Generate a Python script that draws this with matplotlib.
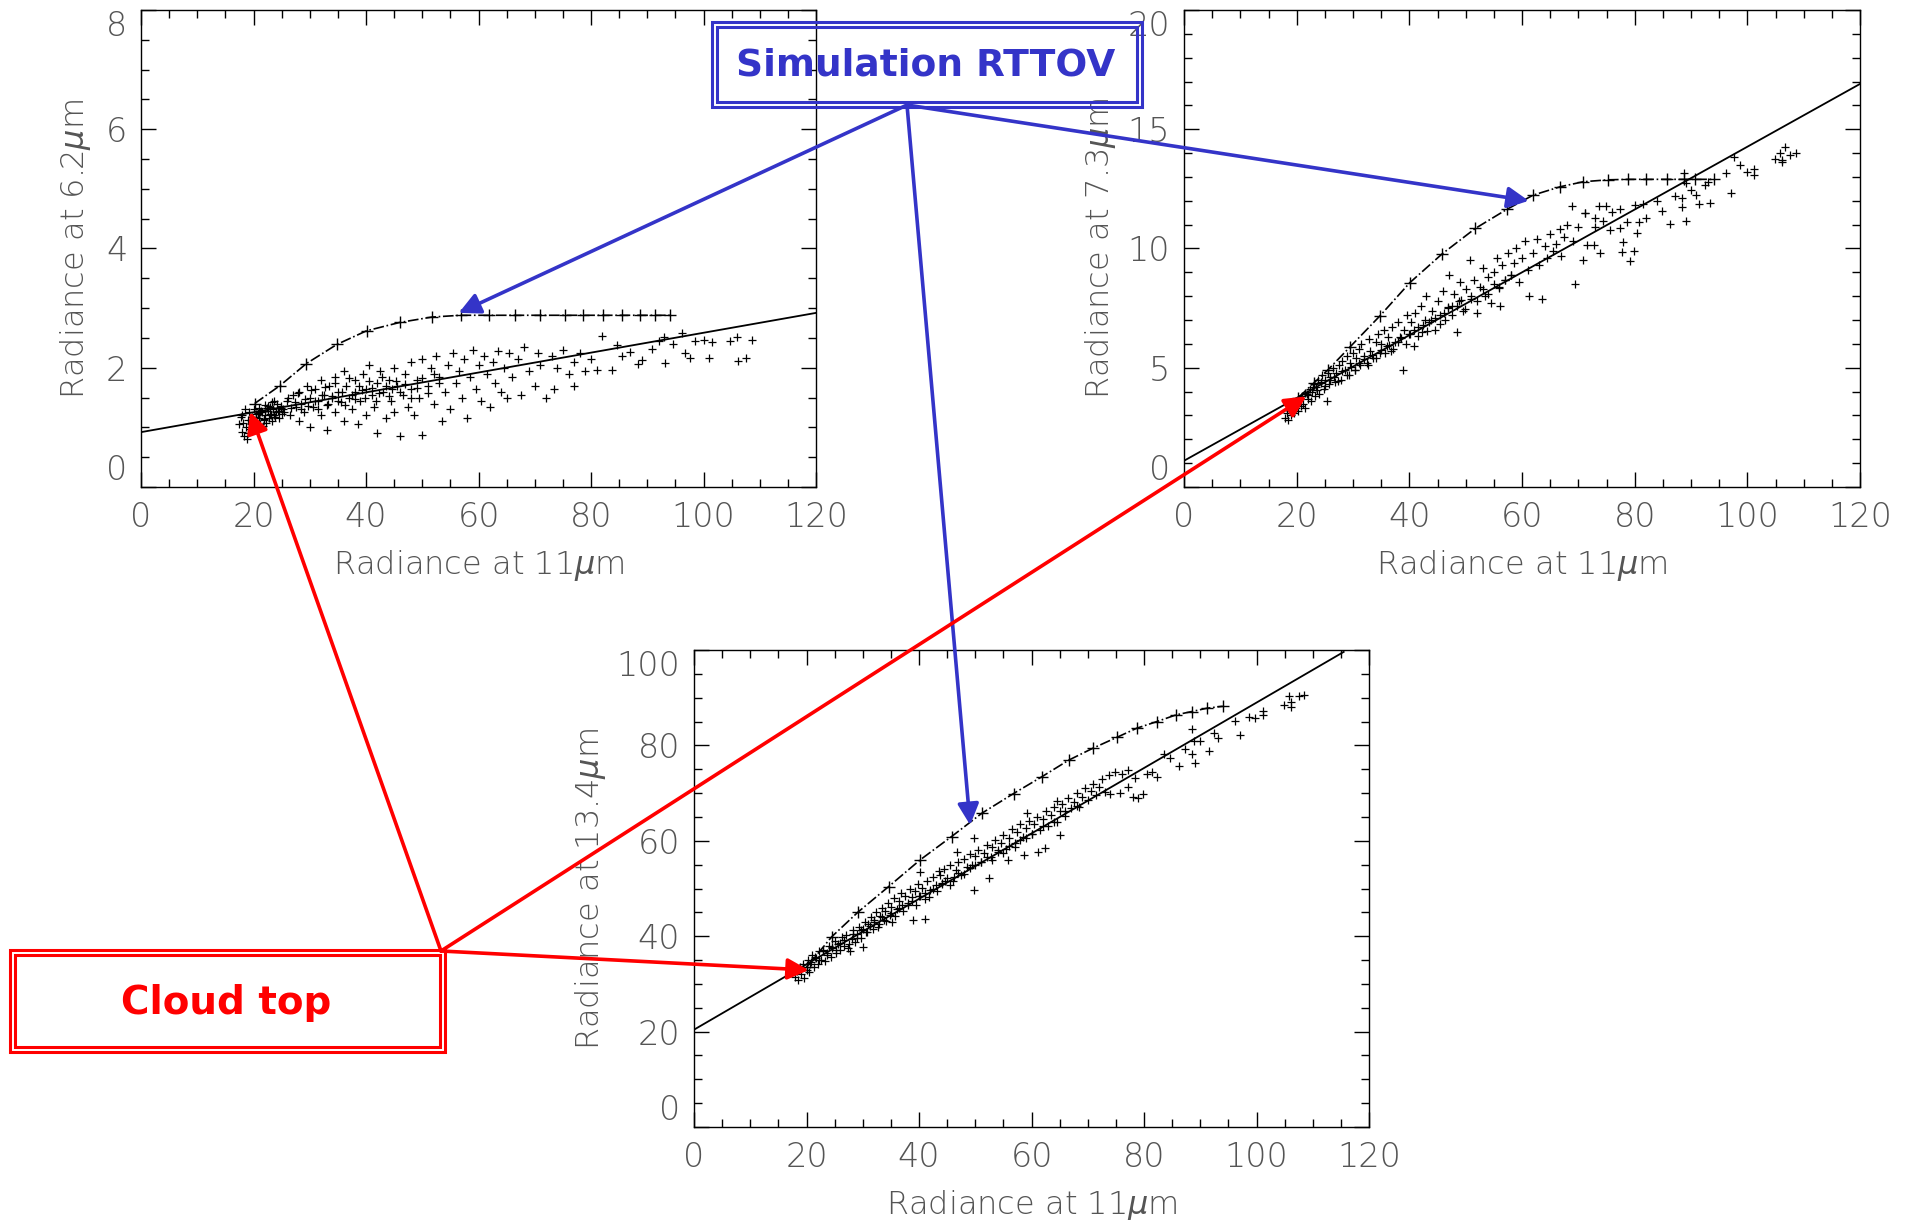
import matplotlib
matplotlib.use("Agg")
import matplotlib.pyplot as plt
from matplotlib.ticker import MultipleLocator
from matplotlib.patches import FancyArrowPatch, Rectangle

# ---- data ----
x_ticks = [0, 20, 40, 60, 80, 100, 120]

# panel 1 : 6.2 um vs 11 um
fit1_x = [0, 120]
fit1_y = [0.92, 2.92]
sim1_x = [20.2, 24.7, 29.4, 34.8, 40.1, 46.0, 51.7, 56.8, 61.8, 66.5, 70.9, 75.4, 78.6, 82.1, 85.5, 88.7, 91.4, 94.0]
sim1_y = [1.40, 1.70, 2.07, 2.39, 2.62, 2.76, 2.85, 2.88, 2.88, 2.88, 2.88, 2.88, 2.88, 2.88, 2.88, 2.88, 2.88, 2.88]
obs1_x = [17.5, 18, 18, 18.3, 18.5, 18.7, 19, 19, 19.2, 19.5, 19.8, 20, 20, 20.2, 20.5, 20.7, 21, 21, 21.2, 21.5,
          21.8, 22, 22, 22.3, 22.5, 22.8, 23, 23, 23.3, 23.5, 23.8, 24, 24.2, 24.5, 24.8, 25, 18.2, 19.3, 20.4, 21.4,
          22.6, 23.6, 24.6, 17.8, 19.6, 21.6, 23.2, 25.2, 18.8, 20.8,
          26, 26.5, 27, 27.5, 28, 28, 28.5, 29, 29.5, 30, 30, 30.5, 31, 31.5, 32, 32, 32.5, 33, 33, 33.5,
          34, 34.5, 34.5, 35, 35.5, 36, 36, 36.5, 37, 37.5, 38, 38, 38.5, 39, 39.5, 40, 40, 40.5, 41, 41.5,
          42, 42, 42.5, 43, 43.5, 44, 44.5, 45, 45, 45.5, 46, 46.5, 47, 47.5, 48, 48, 48.5, 49, 49.5, 50, 50,
          51, 51.5, 52, 52.5, 53, 53.5, 54, 54.5, 55, 55.5, 56, 56.5, 57, 57.5, 58, 58.5, 59, 59.5, 60, 60.5,
          61, 61.5, 62, 62.5, 63, 63.5, 64, 64.5, 65, 65.5, 66, 67, 67.5, 68, 69, 70, 70.5, 71, 72, 73,
          73.5, 74, 75, 76, 77, 77, 78, 79, 80,
          81, 82, 83.7, 84.6, 85.5, 86.9, 88.4, 89, 90.8, 92, 92.9, 93.2, 94.5, 96.1, 96.7, 97.6, 98.5, 100,
          100.9, 101.5, 104.7, 105.9, 106.2, 107.6, 108.6,
          20.5, 21.2, 21.8, 22.4, 23.1, 23.7, 24.3, 24.9, 25.5, 26.1, 26.7, 27.3, 27.9, 28.5, 29.1, 29.7, 30.3,
          30.9, 31.5, 32.1, 32.7, 33.3, 33.9, 34.5, 35.1, 35.7, 36.3, 36.9, 37.5, 38.1, 38.7, 39.3, 39.9, 40.5,
          41.1, 41.7, 42.3, 42.9, 43.5, 44.1, 44.7, 45.3, 46, 47, 48, 49, 50, 51, 52, 53]
obs1_y = [1.05, 0.92, 1.2, 0.85, 1.3, 1.0, 1.12, 0.9, 1.25, 1.05, 1.18, 0.95, 1.3, 1.1, 1.22, 1.0, 1.15, 1.32, 1.05, 1.25,
          1.12, 1.2, 1.38, 1.08, 1.28, 1.15, 1.22, 1.35, 1.1, 1.3, 1.18, 1.25, 1.4, 1.15, 1.32, 1.22, 1.08, 0.98, 1.16, 1.28,
          1.36, 1.2, 1.28, 1.18, 1.12, 1.02, 1.42, 1.3, 0.8, 1.24,
          1.45, 1.2, 1.55, 1.35, 1.1, 1.6, 1.4, 1.25, 1.7, 1.5, 1.0, 1.35, 1.65, 1.45, 1.8, 1.2, 1.55, 1.38, 0.95, 1.7,
          1.5, 1.85, 1.25, 1.6, 1.42, 1.95, 1.1, 1.7, 1.5, 1.3, 1.8, 1.6, 1.05, 1.45, 1.9, 1.65, 1.2, 2.05, 1.55, 1.35,
          1.75, 0.9, 1.95, 1.6, 1.15, 1.8, 1.45, 2.0, 1.25, 1.7, 0.85, 1.55, 1.9, 1.35, 2.1, 1.65, 1.2, 1.8, 1.5, 2.15, 0.88,
          1.7, 2.0, 1.4, 2.2, 1.85, 1.1, 1.6, 2.05, 1.3, 2.25, 1.75, 1.95, 1.5, 2.15, 1.15, 1.85, 2.3, 1.65, 2.05, 1.45,
          2.2, 1.9, 1.35, 2.1, 1.75, 2.28, 1.6, 2.0, 1.5, 2.25, 1.85, 2.15, 1.55, 2.35, 1.95, 1.7, 2.25, 2.05, 1.5, 2.2,
          1.65, 2.0, 2.3, 1.9, 1.7, 2.1, 2.25, 1.95, 2.15,
          1.96, 2.53, 1.96, 2.38, 2.2, 2.27, 2.07, 2.13, 2.32, 2.45, 2.51, 2.08, 2.4, 2.59, 2.25, 2.17, 2.45, 2.46,
          2.16, 2.44, 2.45, 2.52, 2.11, 2.17, 2.47,
          1.18, 1.26, 1.14, 1.33, 1.2, 1.44, 1.28, 1.36, 1.25, 1.5, 1.32, 1.42, 1.58, 1.3, 1.48, 1.36, 1.62,
          1.44, 1.3, 1.55, 1.68, 1.4, 1.52, 1.75, 1.45, 1.6, 1.38, 1.82, 1.55, 1.48, 1.7, 1.62, 1.5, 1.78,
          1.66, 1.45, 1.58, 1.85, 1.7, 1.52, 1.64, 1.78, 1.6, 1.72, 1.5, 1.66, 1.82, 1.58, 1.9, 1.75]

# panel 2 : 7.3 um vs 11 um
fit2_x = [0, 120]
fit2_y = [1.1, 16.9]
sim2_x = [20.3, 23.0, 25.5, 29.5, 34.8, 40.1, 45.8, 51.7, 57.3, 62.0, 66.8, 70.9, 75.3, 78.9, 82.1, 85.7, 88.7, 90.7, 94.0]
sim2_y = [3.75, 4.35, 4.9, 5.88, 7.18, 8.57, 9.77, 10.84, 11.64, 12.24, 12.59, 12.80, 12.88, 12.9, 12.9, 12.9, 12.9, 12.9, 12.9]
obs2_x = [18, 18.3, 18.5, 18.8, 19, 19.2, 19.5, 19.8, 20, 20.2, 20.5, 20.8, 21, 21.2, 21.5, 21.8, 22, 22.3, 22.5, 22.8,
          23, 23.2, 23.5, 23.8, 24, 24.3, 24.5, 24.8, 25, 25.3, 25.5, 25.8, 26, 26.5, 26.8, 27, 27.5, 27.8, 28, 28.5,
          29, 29.3, 29.5, 30, 30.3, 30.5, 31, 31.3, 31.5, 32, 32.5, 32.8, 33, 33.5, 34, 34.5, 34.8, 35, 35.5, 36,
          36.3, 36.8, 37, 37.5, 38, 38.3, 38.8, 39, 39.5, 40, 40.3, 40.8, 41, 41.5, 42, 42.3, 42.8, 43, 43.5, 44,
          44.5, 45, 45.5, 46, 46.3, 46.8, 47, 47.5, 48, 48.4, 48.8, 49, 49.5, 50, 50.8, 51, 51.5, 52, 52.5, 53,
          53.5, 54, 54.5, 55, 55.5, 56, 56.1, 56.5, 57, 57.5, 58, 58.5, 59, 59.5, 60, 60.5, 61, 61.2, 62, 62.6,
          63, 63.5, 64, 64.5, 65, 65.5, 66, 66.8, 67, 67.5, 68, 68.8, 69, 69.4, 70, 70.9, 71.2,
          73.6, 74.9, 71.2, 73, 74.4, 75.9, 77.4, 80.1, 81.5, 83.9, 84.8, 82.1, 80.7, 78.6, 77.4, 75.6, 73, 71.5,
          72.7, 73.9, 77.7, 79.8, 78, 79.2, 80.4, 86.3, 89.1, 87.2, 88.4, 88.4, 90.9, 91.5, 90, 93.3, 92.4, 93.1,
          88.7, 89.2, 96.2, 97.1, 97.6, 98.7, 99.9, 101.1, 101.1, 104.9, 105.8, 106.2, 106.2, 106.7, 107.6, 108.7,
          20.6, 21.4, 22.1, 22.9, 23.6, 24.4, 25.1, 25.9, 26.6, 27.4, 28.1, 28.9, 29.6, 30.4, 31.1, 31.9, 32.6,
          33.4, 34.1, 34.9, 35.6, 36.4, 37.1, 37.9, 38.6, 39.4, 40.1, 40.9, 41.6, 42.4, 43.1, 43.9, 44.6, 45.4,
          46.1, 46.9, 47.6, 48.4, 49.1, 49.9, 51, 52, 53, 54, 55, 56, 57, 58]
obs2_y = [2.9, 3.1, 2.8, 3.2, 3.0, 3.4, 3.1, 3.3, 3.5, 3.2, 3.6, 3.4, 3.8, 3.5, 3.3, 3.9, 3.7, 4.1, 3.6, 4.0,
          4.3, 3.8, 4.2, 4.5, 3.9, 4.4, 4.7, 4.1, 4.5, 3.6, 4.8, 4.3, 4.6, 5.0, 4.4, 4.8, 5.1, 4.5, 5.3, 4.9,
          5.5, 4.7, 5.2, 5.6, 4.9, 5.4, 5.8, 5.1, 6.0, 5.5, 5.2, 6.2, 5.7, 5.4, 6.1, 6.4, 5.6, 6.0, 6.6, 5.9,
          6.3, 5.7, 6.7, 6.1, 6.9, 6.3, 4.9, 6.6, 7.2, 6.4, 6.9, 5.9, 7.3, 6.7, 7.6, 6.5, 7.0, 8.0, 6.9, 7.4,
          6.6, 7.8, 7.2, 8.2, 7.0, 7.56, 8.9, 7.6, 8.1, 6.5, 7.8, 8.6, 7.4, 8.3, 9.5, 7.9, 8.7, 7.3, 8.4, 9.2,
          8.0, 8.8, 7.7, 9.0, 9.6, 8.4, 7.6, 9.3, 8.7, 9.8, 8.9, 9.4, 10.0, 8.6, 9.6, 10.3, 9.1, 8.0, 9.8, 10.4,
          9.3, 7.9, 10.1, 9.6, 10.6, 9.9, 10.2, 10.8, 9.7, 10.5, 11.0, 11.8, 10.3, 8.5, 10.9, 9.5, 11.5,
          11.78, 11.78, 11.47, 11.27, 11.17, 11.55, 11.66, 11.82, 11.87, 12.01, 11.59, 11.27, 11.13, 11.1, 10.85, 10.78, 10.92, 10.15,
          10.15, 9.8, 9.87, 9.91, 10.26, 9.48, 10.64, 11.03, 11.15, 12.22, 12.1, 11.76, 12.23, 11.87, 12.44, 11.92, 12.66, 12.8,
          13.18, 12.73, 13.18, 12.34, 13.82, 13.49, 13.22, 13.33, 13.08, 13.75, 14.02, 13.71, 13.61, 14.27, 13.92, 14.02,
          3.7, 3.95, 3.85, 4.2, 4.05, 4.35, 4.25, 4.5, 4.6, 4.45, 4.85, 4.7, 5.05, 4.9, 5.2, 5.35, 5.1,
          5.55, 5.4, 5.75, 5.6, 5.95, 5.8, 6.1, 6.25, 6.0, 6.4, 6.6, 6.35, 6.8, 6.55, 7.0, 7.1, 6.85,
          7.3, 7.5, 7.2, 7.6, 7.85, 7.45, 8.0, 7.8, 8.3, 8.1, 8.5, 8.35, 8.7, 8.9]

# panel 3 : 13.4 um vs 11 um
fit3_x = [0, 115.5]
fit3_y = [20.4, 99.6]
sim3_x = [20.0, 24.5, 29.2, 34.6, 40.2, 45.8, 51.2, 56.8, 61.8, 66.6, 70.9, 75.2, 78.7, 82.3, 85.7, 88.5, 91.2, 94.0]
sim3_y = [33.5, 39.9, 45.1, 50.4, 56.0, 60.9, 65.8, 69.9, 73.4, 76.9, 79.4, 81.7, 83.6, 85.0, 86.4, 87.1, 87.8, 88.2]
obs3_x = [18, 18.3, 18.5, 18.8, 19, 19.3, 19.6, 20, 20.2, 20.5, 20.8, 21, 21.3, 21.6, 22, 22.3, 22.6, 23, 23.3, 23.6,
          24, 24.3, 24.6, 25, 25.3, 25.6, 26, 26.3, 26.6, 27, 27.3, 27.7, 28, 28.3, 28.6, 29, 29.3, 29.6, 30, 30.1,
          30.4, 30.8, 31, 31.4, 31.8, 32, 32.4, 32.8, 33, 33.4, 33.8, 34, 34.4, 34.8, 35, 35.2, 35.5, 36, 36.4, 36.8,
          37, 37.5, 38, 38.4, 38.8, 39, 39.3, 39.8, 40, 40.2, 40.6, 41, 41.1, 41.5, 42, 42.5, 43, 43.5, 43.8, 44,
          44.5, 45, 45.5, 46, 46.5, 46.7, 47, 47.5, 48, 48.5, 49, 49.5, 49.7, 49.7, 50, 50.5, 51, 51.5, 52, 52.4,
          52.8, 53, 53.5, 54, 54.5, 55, 55.5, 55.9, 56, 56.5, 57, 57.5, 58, 58.6, 58.5, 59, 59.2, 59.5, 60, 60.5,
          61, 61.2, 61.5, 62, 62.4, 62.5, 63, 63.5, 64, 64.5, 64.5, 65, 65.1, 65.5, 66, 66.5, 67, 67.5, 68, 68.5,
          69, 69.5, 70, 70.5, 71, 71.5, 72, 72.5, 73, 73.7, 74, 74.9, 75.7, 76, 77.2, 77.2, 78.1, 78.4, 79, 79.9,
          80.5, 81.4, 82.3, 83.5, 84.6, 86.2, 87.2, 88.5, 88.6, 88.8, 89.1, 90, 91.5, 92.4, 93.2, 96.2, 97, 98.6,
          99.8, 101.1, 101.1, 104.9, 105.8, 106.2, 106.2, 107.6, 108.5,
          20.7, 21.5, 22.2, 23, 23.7, 24.5, 25.2, 26, 26.7, 27.5, 28.2, 29, 29.7, 30.5, 31.2, 32, 32.7, 33.5,
          34.2, 35, 35.7, 36.5, 37.2, 38, 38.7, 39.5, 40.2, 41, 41.7, 42.5, 43.2, 44, 44.7, 45.5, 46.2, 47,
          48, 49, 50, 51, 52, 53, 54, 55, 56, 57, 58, 59, 60, 62, 64, 66, 68]
obs3_y = [31.5, 32.8, 30.8, 33.5, 32, 34.2, 31.2, 33, 35, 32.4, 34.5, 36, 33.6, 35.5, 34.2, 36.8, 35, 37.2, 34.8, 36.4,
          38, 35.6, 37.5, 39, 36.5, 38.4, 37.2, 39.8, 38, 40.2, 37.6, 36.8, 39.5, 41.2, 38.8, 40.5, 42, 39.6, 41.5, 37.8,
          43, 40.8, 42.5, 44, 41.6, 43.4, 45, 42.6, 44.2, 46, 43.4, 45.2, 47, 44.5, 46.2, 43, 48, 45.6, 47.4, 49,
          46.5, 48.4, 47, 50, 48.2, 43.4, 49.5, 51, 48.5, 53.5, 50.2, 47.8, 43.7, 51.5, 49.6, 52.5, 50.8, 53.6, 52.8, 51.2,
          54, 52.2, 55, 51.5, 53.8, 57.7, 55.6, 52.8, 56.2, 54.5, 57.2, 55, 60.5, 49.7, 56.8, 58, 55.5, 57.5, 59.2, 52.1,
          56.5, 58.8, 60.2, 57.6, 59.5, 61.2, 58.2, 56, 60.5, 62.4, 59.6, 61.8, 63.5, 57, 60.8, 62.6, 65.8, 64.2, 61.5, 63.5,
          65, 57.7, 62.2, 64.5, 58.4, 66.2, 63.2, 65.5, 67, 68.4, 64, 66.2, 61.2, 67.8, 65.2, 69, 66.8, 68.2, 70, 67,
          69.2, 71, 68.5, 70.5, 72, 69.5, 71.2, 73, 70.2, 73.8, 69.9, 74.5, 70.1, 74.1, 71.3, 74.8, 69.2, 73.1, 68.9, 69.9,
          74.1, 74.5, 73.4, 78.2, 77.3, 75.7, 79.2, 83.4, 78.3, 80.9, 76.4, 80.9, 78.8, 82.5, 81.5, 85.1, 82.2, 85.9,
          85.7, 87.2, 86.4, 88.5, 90.4, 89, 88.1, 90.3, 90.6,
          34.2, 35.6, 35.0, 36.8, 36.0, 37.8, 37.2, 38.6, 39.2, 38.4, 40.4, 39.6, 41.4, 40.8, 42.2, 43.0, 42.0, 44.0,
          43.2, 44.9, 44.2, 46.0, 45.2, 46.6, 47.4, 46.6, 48.4, 49.0, 48.2, 50.0, 49.4, 51.0, 51.6, 50.8, 52.4, 53.2,
          53.0, 54.4, 55.0, 55.6, 56.6, 56.0, 58.0, 57.4, 59.0, 58.6, 60.2, 60.6, 61.4, 63.0, 64.0, 66.2, 67.2]

panels = [
    ("Radiance at 6.2$\\mu$m", [141, 10, 816, 487], 8, 2, 0.5, -0.071,
     fit1_x, fit1_y, sim1_x, sim1_y, obs1_x, obs1_y),
    ("Radiance at 7.3$\\mu$m", [1184, 10, 1860, 487], 20, 5, 1, -0.097,
     fit2_x, fit2_y, sim2_x, sim2_y, obs2_x, obs2_y),
    ("Radiance at 13.4$\\mu$m", [694, 650, 1369, 1127], 100, 20, 5, -0.128,
     fit3_x, fit3_y, sim3_x, sim3_y, obs3_x, obs3_y),
]

W, H = 1910, 1220
fig = plt.figure(figsize=(W / 100, H / 100), dpi=100)
label_color = "#555555"
axes = []

for ylab, box, ymax, ymaj, ymin, ylab_x, fx, fy, sx, sy, ox, oy in panels:
    l, t, r, b = box
    ax = fig.add_axes([l / W, 1 - b / H, (r - l) / W, (b - t) / H])
    ax.plot(ox, oy, "+", color="black", ms=6, mew=0.9, zorder=2)
    ax.plot(fx, fy, "-", color="black", lw=1.3, zorder=3)
    ax.plot(sx, sy, "-.", color="black", lw=1.2, zorder=3)
    ax.plot(sx, sy, "+", color="black", ms=8, mew=1.0, zorder=3)
    ax.set_xlim(0, 120)
    ax.set_ylim(0, ymax)
    ax.set_xticks(x_ticks)
    ax.xaxis.set_minor_locator(MultipleLocator(5))
    ax.yaxis.set_major_locator(MultipleLocator(ymaj))
    ax.yaxis.set_minor_locator(MultipleLocator(ymin))
    ax.tick_params(which="both", direction="in", top=True, right=True,
                   labelsize=24, labelcolor=label_color, width=1)
    ax.tick_params(which="major", length=11, pad=10)
    ax.tick_params(which="minor", length=6)
    ax.set_xlabel("Radiance at 11$\\mu$m", fontsize=23, color=label_color,
                  fontweight="light", labelpad=10)
    ax.set_ylabel(ylab, fontsize=23, color=label_color, fontweight="light")
    ax.yaxis.set_label_coords(ylab_x, 0.5)
    for s in ax.spines.values():
        s.set_linewidth(1.0)
    axes.append(ax)

# IDL-style: end labels of the y axis kept inside the axis height
fig.canvas.draw()
for ax in axes:
    ylabels = [lab for lab in ax.yaxis.get_majorticklabels() if lab.get_text()]
    for lab in ax.get_xticklabels() + ylabels:
        lab.set_fontweight("light")
    ymax = ax.get_ylim()[1]
    for tick in ax.yaxis.get_major_ticks():
        pos = tick.get_loc()
        if abs(pos) < 1e-9:
            tick.label1.set_va("bottom")
        elif abs(pos - ymax) < 1e-9:
            tick.label1.set_va("top")


def fig_frac(px, py):
    return (px / W, 1 - py / H)


def data_to_fig(ax, pt):
    return fig.transFigure.inverted().transform(ax.transData.transform(pt))


def double_box(l, t, r, b, color, gap=5):
    for k in (0, gap):
        x0, y0 = fig_frac(l + k, b - k)
        x1, y1 = fig_frac(r - k, t + k)
        fig.add_artist(Rectangle((x0, y0), x1 - x0, y1 - y0, transform=fig.transFigure,
                                 fill=False, edgecolor=color, lw=2.2, zorder=10))


blue = "#3434c8"
red = "#ff0000"

# Simulation RTTOV annotation
double_box(712, 22, 1142, 107, blue)
fig.text(*fig_frac(926, 66), "Simulation RTTOV", color=blue, fontsize=27,
         fontweight="bold", ha="center", va="center", zorder=11)
blue_targets = [(axes[0], (56.5, 2.92)), (axes[1], (61.2, 12.0)), (axes[2], (49.1, 63.3))]
for ax, pt in blue_targets:
    fig.add_artist(FancyArrowPatch(fig_frac(907, 105), data_to_fig(ax, pt),
                                   transform=fig.transFigure, arrowstyle="-|>",
                                   mutation_scale=32, lw=2.6, color=blue,
                                   shrinkA=0, shrinkB=0, zorder=12))

# Cloud top annotation
double_box(10, 950, 445, 1052, red)
fig.text(*fig_frac(226, 1003), "Cloud top", color=red, fontsize=28,
         fontweight="bold", ha="center", va="center", zorder=11)
red_targets = [(axes[0], (19.4, 1.26)), (axes[1], (21.7, 3.8)), (axes[2], (20.4, 32.9))]
for ax, pt in red_targets:
    fig.add_artist(FancyArrowPatch(fig_frac(441, 951), data_to_fig(ax, pt),
                                   transform=fig.transFigure, arrowstyle="-|>",
                                   mutation_scale=32, lw=2.6, color=red,
                                   shrinkA=0, shrinkB=0, zorder=12))

fig.savefig("out.png", dpi=100)
